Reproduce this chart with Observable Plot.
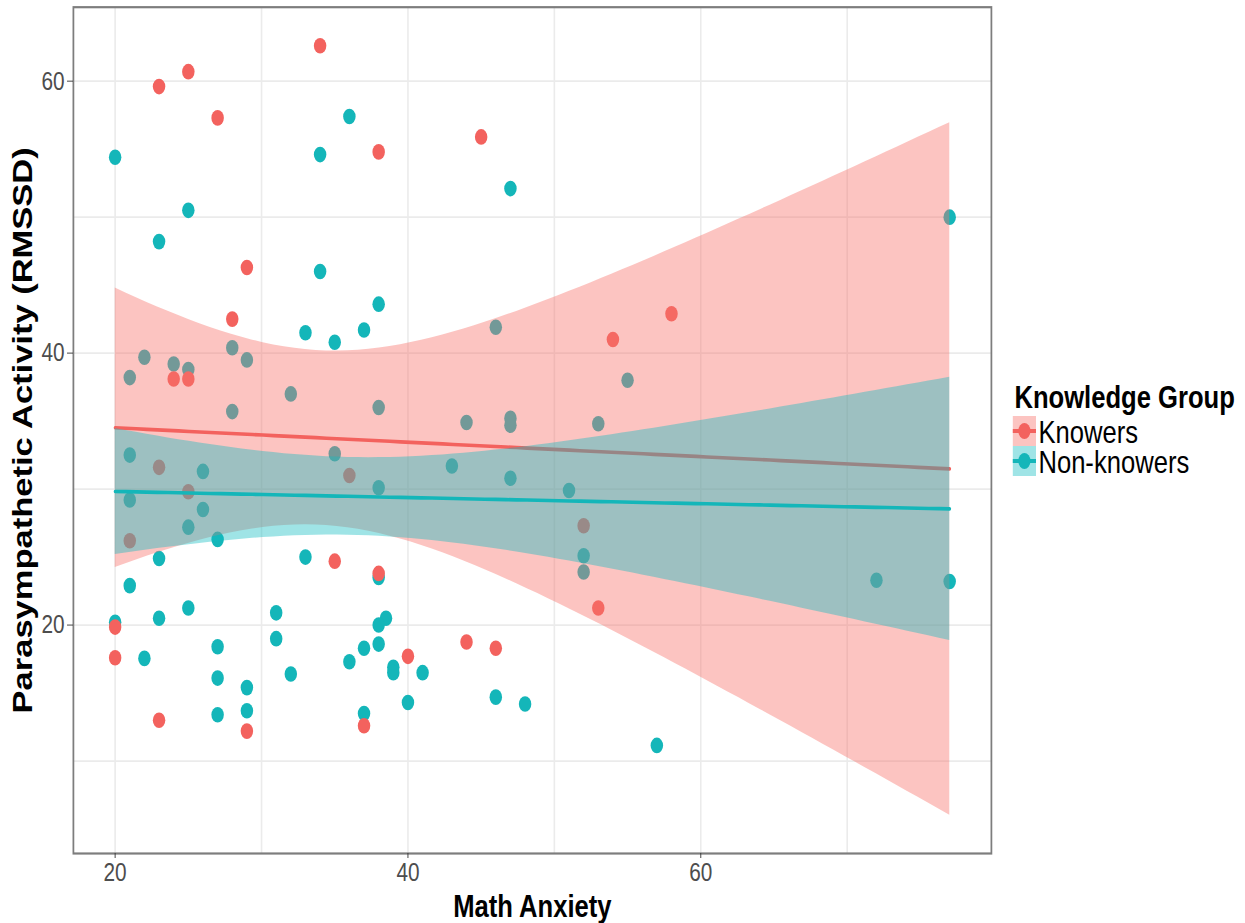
<!DOCTYPE html>
<html><head><meta charset="utf-8">
<script src="https://cdn.jsdelivr.net/npm/d3@7"></script>
<script src="https://cdn.jsdelivr.net/npm/@observablehq/plot@0.6"></script>
<style>
html,body{margin:0;padding:0;background:#fff;overflow:hidden;}
#page{position:relative;width:1245px;height:923px;overflow:hidden;background:#fff;}
#wrap{position:absolute;left:0;top:0;width:1556px;height:923px;transform:scaleX(0.8);transform-origin:0 0;font-family:"Liberation Sans",Arial,sans-serif;}
.lg{position:absolute;white-space:nowrap;color:#000;}
.key{position:absolute;width:29px;height:30px;}
.key .ln{position:absolute;left:0;right:0;top:13.25px;height:3.5px;}
.key .pt{position:absolute;left:6.7px;top:7.2px;width:15.6px;height:15.6px;border-radius:50%;}
</style></head><body>
<div id="page"><div id="wrap"></div></div>
<script>
// ---- data ----
const groups = ["Knowers", "Non-knowers"];
const groupColors = ["#F3625E", "#14B6B9"];
const bandColors = ["#F7736B", "#10BCC0"];

const knowersX = [34,25,23,27,38,45,29,28,54,58,24,25,23,25,21,36,52,53,35,38,20,20,23,29,40,44,46,37];
const knowersY = [62.6,60.7,59.6,57.3,54.8,55.9,46.3,42.5,41.0,42.9,38.1,38.1,31.6,29.8,26.2,31.0,27.3,21.25,24.7,23.8,19.85,17.6,13.0,12.2,17.7,18.75,18.3,12.6];

const nonKnowersX = [20,36,34,25,23,34,38,33,35,37,28,22,21,24,25,29,32,28,38,47,46,55,44,47,47,53,35,38,43,47,51,52,52,33,38,38.5,38,37,38,36,39,39,41,40,46,48,37,57,32,21,26,21,26,25,27,23,21,25,23,20,22,27,27,29,27,29,31,31,77,72,77];
const nonKnowersY = [54.4,57.4,54.6,50.5,48.2,46.0,43.6,41.5,40.8,41.7,40.4,39.7,38.2,39.2,38.8,39.5,37.0,35.7,36.0,52.1,41.9,38.0,34.9,35.2,34.7,34.8,32.6,30.1,31.7,30.8,29.9,25.1,23.9,25.0,23.5,20.5,20.0,18.3,18.6,17.3,16.9,16.5,16.5,14.3,14.7,14.2,13.5,11.15,16.4,32.5,31.3,29.2,28.5,27.2,26.3,24.9,22.9,21.25,20.5,20.2,17.55,18.4,16.1,15.4,13.4,13.7,20.9,19.0,50.0,23.3,23.2];

const xTicks = [20, 40, 60];
const xMinor = [30, 50, 70];
const yTicks = [20, 40, 60];
const yMinor = [10, 30, 50];
const xTitle = "Math Anxiety";
const yTitle = "Parasympathetic Activity (RMSSD)";
const legendTitle = "Knowledge Group";

// ---- tables ----
const knowers = knowersX.map((x, i) => ({x, y: knowersY[i], g: groups[0]}));
const nonKnowers = nonKnowersX.map((x, i) => ({x, y: nonKnowersY[i], g: groups[1]}));

// linear model (lm) with 95% confidence band, evaluated over the full x range (ggplot geom_smooth fullrange)
function tq975(df) {
  const z = 1.959963985;
  return z + (z**3 + z) / (4*df) + (5*z**5 + 16*z**3 + 3*z) / (96*df**2)
    + (3*z**7 + 19*z**5 + 17*z**3 - 15*z) / (384*df**3)
    + (79*z**9 + 776*z**7 + 1482*z**5 - 1920*z**3 - 945*z) / (92160*df**4);
}
const [fx0, fx1] = d3.extent(knowersX.concat(nonKnowersX));
const evalX = d3.range(80).map(i => fx0 + (fx1 - fx0) * i / 79);
function smooth(xs, ys) {
  const n = xs.length, mx = d3.mean(xs), my = d3.mean(ys);
  let sxx = 0, sxy = 0;
  xs.forEach((x, i) => { sxx += (x - mx) ** 2; sxy += (x - mx) * (ys[i] - my); });
  const b = sxy / sxx, a = my - b * mx;
  let sse = 0;
  xs.forEach((x, i) => { sse += (ys[i] - a - b * x) ** 2; });
  const s = Math.sqrt(sse / (n - 2)), t = tq975(n - 2);
  return evalX.map(x => {
    const f = a + b * x, se = s * Math.sqrt(1 / n + (x - mx) ** 2 / sxx);
    return {x, fit: f, lo: f - t * se, hi: f + t * se};
  });
}
const bandK = smooth(knowersX, knowersY);
const bandN = smooth(nonKnowersX, nonKnowersY);

const font = "'Liberation Sans', Arial, Helvetica, sans-serif";

const chart = Plot.plot({
  width: 1556,
  height: 923,
  marginLeft: 91.25,
  marginRight: 317.25,
  marginTop: 6.7,
  marginBottom: 70,
  style: {fontFamily: font, fontSize: "26px", background: "#fff", color: "#4d4d4d"},
  x: {domain: [17.15, 79.85]},
  y: {domain: [3.2, 65.44]},
  marks: [
    Plot.gridX(xMinor, {stroke: "#ebebeb", strokeOpacity: 1, strokeWidth: 2}),
    Plot.gridX(xTicks, {stroke: "#ebebeb", strokeOpacity: 1, strokeWidth: 2}),
    Plot.gridY(yMinor, {stroke: "#ebebeb", strokeOpacity: 1, strokeWidth: 1.8}),
    Plot.gridY(yTicks, {stroke: "#ebebeb", strokeOpacity: 1, strokeWidth: 1.8}),
    Plot.dot(nonKnowers, {x: "x", y: "y", r: 7.8, fill: groupColors[1], stroke: "none"}),
    Plot.dot(knowers, {x: "x", y: "y", r: 7.8, fill: groupColors[0], stroke: "none"}),
    Plot.areaY(bandK, {x: "x", y1: "lo", y2: "hi", fill: bandColors[0], fillOpacity: 0.42}),
    Plot.lineY(bandK, {x: "x", y: "fit", stroke: groupColors[0], strokeWidth: 3.6}),
    Plot.areaY(bandN, {x: "x", y1: "lo", y2: "hi", fill: bandColors[1], fillOpacity: 0.4}),
    Plot.lineY(bandN, {x: "x", y: "fit", stroke: groupColors[1], strokeWidth: 3.6}),
    Plot.frame({stroke: "#7d7d7d", strokeWidth: 2.2}),
    Plot.axisX(xTicks, {anchor: "bottom", tickSize: 5, tickPadding: 4, fontSize: 26, label: null, stroke: "#333", fill: "#4d4d4d", tickFormat: d => String(d)}),
    Plot.axisY(yTicks, {anchor: "left", tickSize: 7.5, tickPadding: 3.5, fontSize: 26, label: null, stroke: "#333", fill: "#4d4d4d", tickFormat: d => String(d)}),
    Plot.text([xTitle], {text: d => d, frameAnchor: "bottom", textAnchor: "middle", lineAnchor: "bottom", dy: 63, fontSize: 32, fontWeight: "bold", fill: "#000"}),
    Plot.text([yTitle], {text: d => d, frameAnchor: "left", textAnchor: "middle", rotate: -90, lineAnchor: "bottom", dx: -52, fontSize: 34.5, fontWeight: "bold", fill: "#000"})
  ]
});
const wrap = document.getElementById("wrap");
wrap.appendChild(chart);

// ---- legend ----
const lt = document.createElement("div");
lt.className = "lg";
lt.style.cssText = "left:1268px;top:383px;font-size:32px;line-height:28px;font-weight:bold;";
lt.textContent = legendTitle;
wrap.appendChild(lt);
const fills = ["rgba(247,115,107,0.42)", "rgba(16,188,192,0.4)"];
groups.forEach((g, i) => {
  const k = document.createElement("div");
  k.className = "key";
  k.style.left = "1266px";
  k.style.top = (416 + i * 30) + "px";
  k.style.background = fills[i];
  k.innerHTML = `<div class="ln" style="background:${groupColors[i]}"></div><div class="pt" style="background:${groupColors[i]}"></div>`;
  wrap.appendChild(k);
  const l = document.createElement("div");
  l.className = "lg";
  l.style.cssText = `left:1298px;top:${419 + i * 29.5}px;font-size:32px;line-height:27px;`;
  l.textContent = g;
  wrap.appendChild(l);
});
</script>
</body></html>
